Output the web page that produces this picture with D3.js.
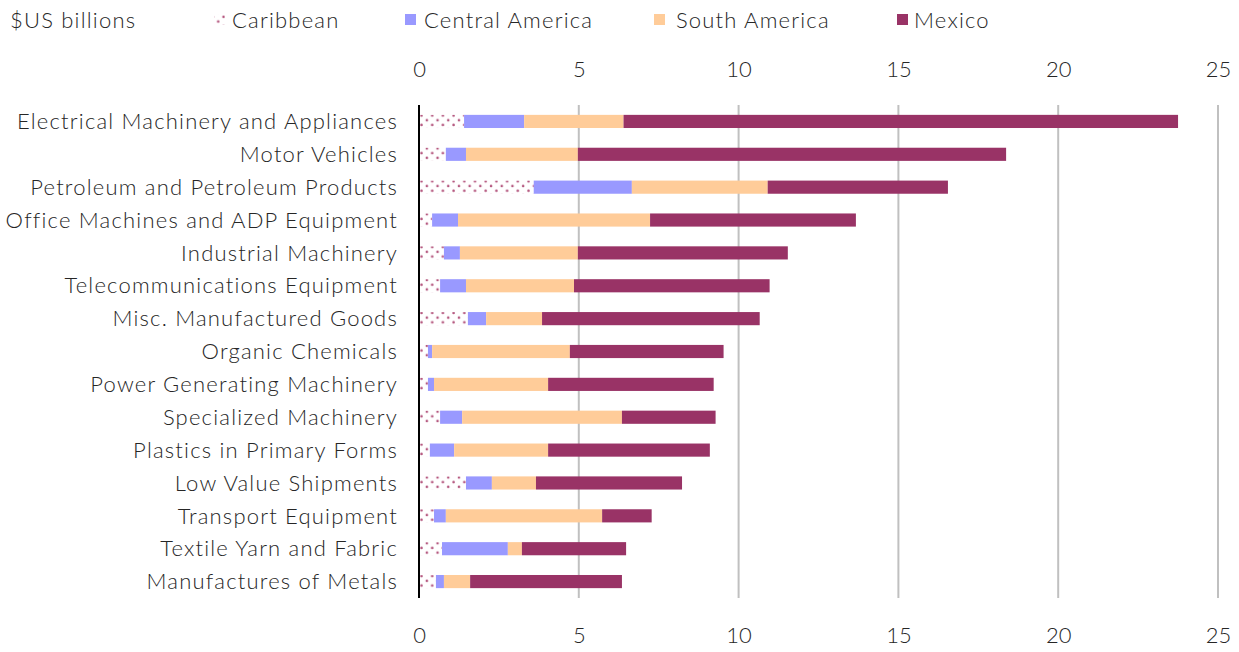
<!DOCTYPE html>
<html><head><meta charset="utf-8">
<script src="https://cdn.jsdelivr.net/npm/d3@7"></script>
<style>
html,body{margin:0;padding:0;background:#fff;}
svg text{font-family:Lato,"Open Sans",sans-serif;font-weight:300;fill:#262626;}
</style></head>
<body>
<svg id="chart" width="1239" height="652"></svg>
<script>
const categories = ["Electrical Machinery and Appliances","Motor Vehicles","Petroleum and Petroleum Products","Office Machines and ADP Equipment","Industrial Machinery","Telecommunications Equipment","Misc. Manufactured Goods","Organic Chemicals","Power Generating Machinery","Specialized Machinery","Plastics in Primary Forms","Low Value Shipments","Transport Equipment","Textile Yarn and Fabric","Manufactures of Metals"];
const caribbean = [1.41,0.84,3.59,0.41,0.78,0.66,1.53,0.28,0.28,0.66,0.34,1.47,0.47,0.72,0.53];
const centralAmerica = [1.88,0.63,3.07,0.81,0.50,0.81,0.57,0.13,0.19,0.69,0.76,0.81,0.37,2.06,0.25];
const southAmerica = [3.11,3.50,4.25,6.01,3.69,3.38,1.75,4.31,3.57,5.00,2.94,1.38,4.89,0.44,0.82];
const mexico = [17.35,13.40,5.64,6.44,6.57,6.12,6.81,4.81,5.18,2.93,5.06,4.57,1.55,3.26,4.75];
const seriesNames = ["Caribbean","Central America","South America","Mexico"];
const tickValues = [0,5,10,15,20,25];
const titleText = "Top U.S. Exports to Latin America";

const colors = {"Caribbean":"url(#dots)","Central America":"#9999FF","South America":"#FFCC99","Mexico":"#993366"};
const table = categories.map((c,i)=>({cat:c,"Caribbean":caribbean[i],"Central America":centralAmerica[i],"South America":southAmerica[i],"Mexico":mexico[i]}));
const stack = d3.stack().keys(seriesNames)(table);

const svg = d3.select("#chart");
const defs = svg.append("defs");
const pat = defs.append("pattern").attr("id","dots").attr("patternUnits","userSpaceOnUse")
  .attr("width",10.7).attr("height",9.4).attr("x",419).attr("y",0);
pat.append("rect").attr("width",10.7).attr("height",9.4).attr("fill","#fff");
pat.append("circle").attr("cx",2.5).attr("cy",2.8).attr("r",1.3).attr("fill","#b5587f");
pat.append("circle").attr("cx",7.85).attr("cy",7.5).attr("r",1.3).attr("fill","#b5587f");

const x = d3.scaleLinear().domain([0,25]).range([419,1218]);
const y = d3.scaleBand().domain(categories).range([105,598]).paddingInner(0.6).paddingOuter(0.3);

// title (clipped at top, as in the reference)
svg.append("text").attr("x",0).attr("y",-4).style("font-weight",700).style("font-size","26px").style("fill","#000").text(titleText);

// gridlines
svg.append("g").selectAll("line").data(tickValues.filter(v=>v>0)).join("line")
  .attr("x1",d=>x(d)).attr("x2",d=>x(d)).attr("y1",105).attr("y2",598)
  .attr("stroke","#c0c0c0").attr("stroke-width",2);

// bars
svg.append("g").selectAll("g").data(stack).join("g")
  .attr("fill",d=>colors[d.key])
  .selectAll("rect").data(d=>d).join("rect")
  .attr("x",d=>x(d[0])).attr("width",d=>x(d[1])-x(d[0]))
  .attr("y",d=>y(d.data.cat)).attr("height",y.bandwidth());

// vertical axis line
svg.append("line").attr("x1",419).attr("x2",419).attr("y1",105).attr("y2",598).attr("stroke","#000").attr("stroke-width",2);

// category labels
const yAxis = d3.axisLeft(y).tickSize(0).tickPadding(0);
const ya = svg.append("g").attr("transform","translate(398,0)").call(yAxis);
ya.select(".domain").remove();
ya.selectAll("text").style("font-size","22px").style("letter-spacing","1.2px").style("fill","#262626").attr("dy","0.35em");

// top and bottom tick labels
const xTop = d3.axisTop(x).tickValues(tickValues).tickSize(0).tickPadding(0);
const xt = svg.append("g").attr("transform","translate(0,77)").call(xTop);
xt.select(".domain").remove();
xt.selectAll("text").style("font-size","22px").style("fill","#262626");
const xBot = d3.axisBottom(x).tickValues(tickValues).tickSize(0).tickPadding(0);
const xb = svg.append("g").attr("transform","translate(0,627)").call(xBot);
xb.select(".domain").remove();
xb.selectAll("text").style("font-size","22px").style("fill","#262626").attr("dy","0.71em");

// legend
const lg = svg.append("g").style("font-size","22px").style("letter-spacing","1.2px");
lg.append("text").attr("x",10).attr("y",28).text("$US billions");
const legendItems = [
  {name:"Caribbean",sx:214,tx:232},
  {name:"Central America",sx:405,tx:424},
  {name:"South America",sx:654,tx:676},
  {name:"Mexico",sx:897,tx:914}
];
legendItems.forEach(it=>{
  lg.append("rect").attr("x",it.sx).attr("y",14).attr("width",11).attr("height",11).attr("fill",colors[it.name]);
  lg.append("text").attr("x",it.tx).attr("y",28).text(it.name);
});
</script>
</body></html>
